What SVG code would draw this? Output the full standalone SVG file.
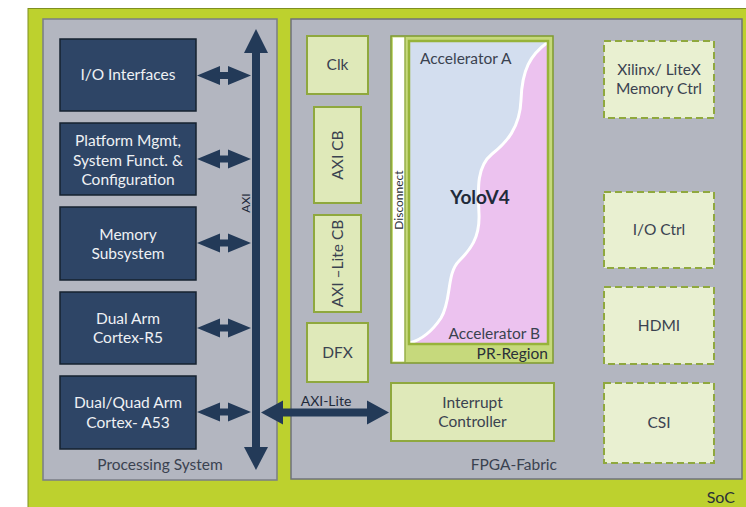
<svg xmlns="http://www.w3.org/2000/svg" width="746" height="507" viewBox="0 0 746 507">
<style>
text{font-family:Lato,"Liberation Sans",sans-serif;}
.ps{fill:#2e4566;stroke:#16222f;stroke-width:1.5;}
.pst{fill:#eef1f4;font-size:15.5px;text-anchor:middle;}
.lg{fill:#dfe9b9;stroke:#8fa83e;stroke-width:2;}
.dash{fill:#e9f0d1;stroke:#8fa83e;stroke-width:2;stroke-dasharray:7,4;}
.dt{fill:#3a4250;font-size:15.5px;text-anchor:middle;}
.arr{fill:#233a58;}
</style>
<rect x="0" y="0" width="746" height="507" fill="#ffffff"/>
<rect x="28" y="8.5" width="720" height="500" fill="#bdd12e" stroke="#7f8f20" stroke-width="1"/>
<g id="processing-system">
<rect x="43" y="19" width="234" height="461" fill="#b3b6c0" stroke="#7a7d86" stroke-width="1.5"/>
<text class="dt" x="160" y="470">Processing System</text>
</g>
<g id="fpga-fabric">
<rect x="291" y="19" width="451" height="460" fill="#b3b6c0" stroke="#6f727a" stroke-width="1.5"/>
<text class="dt" x="557" y="470" style="text-anchor:end">FPGA-Fabric</text>
</g>
<g id="io-interfaces"><rect class="ps" x="60" y="39" width="136" height="72"/><text class="pst" x="128" y="80">I/O Interfaces</text></g>
<g id="platform-mgmt"><rect class="ps" x="60" y="123" width="136" height="72"/><text class="pst" x="128" y="146">Platform Mgmt,</text><text class="pst" x="128" y="165.5">System Funct. &amp;</text><text class="pst" x="128" y="185">Configuration</text></g>
<g id="memory-subsystem"><rect class="ps" x="60" y="207" width="136" height="73"/><text class="pst" x="128" y="240">Memory</text><text class="pst" x="128" y="259">Subsystem</text></g>
<g id="cortex-r5"><rect class="ps" x="60" y="292" width="136" height="72"/><text class="pst" x="128" y="324">Dual Arm</text><text class="pst" x="128" y="343">Cortex-R5</text></g>
<g id="cortex-a53"><rect class="ps" x="60" y="376" width="136" height="73"/><text class="pst" x="128" y="408">Dual/Quad Arm</text><text class="pst" x="128" y="428">Cortex- A53</text></g>
<g id="clk"><rect class="lg" x="307" y="36" width="61" height="58"/><text class="dt" x="337.5" y="70">Clk</text></g>
<g id="axi-cb"><rect class="lg" x="314" y="107" width="47" height="96"/><text class="dt" transform="translate(343,155) rotate(-90)">AXI CB</text></g>
<g id="axi-lite-cb"><rect class="lg" x="314" y="215" width="47" height="97"/><text class="dt" transform="translate(343,263.5) rotate(-90)">AXI –Lite CB</text></g>
<g id="dfx"><rect class="lg" x="307" y="323" width="61" height="59"/><text class="dt" x="337.5" y="358">DFX</text></g>
<g id="pr-region">
<rect x="391" y="36" width="162" height="327" fill="#c6d97c" stroke="#7f9a2e" stroke-width="1.5"/>
<rect x="393" y="37.5" width="11.5" height="324" fill="#ffffff"/>
<line x1="405" y1="37" x2="405" y2="362" stroke="#7f9a2e" stroke-width="1"/>
<text transform="translate(403,200) rotate(-90)" font-size="12" fill="#2a3038" text-anchor="middle">Disconnect</text>
<rect x="409" y="41" width="139" height="303" fill="#d3deef"/>
<path d="M548,42 C530,55 522,70 521,100 C520,128 506,143 492,154 C476,167 478,190 479,214 C480,238 470,250 459,261 C446,274 452,300 441,318 C431,333 420,340 410,343 L548,343 Z" fill="#ecc2ef"/>
<path d="M548,42 C530,55 522,70 521,100 C520,128 506,143 492,154 C476,167 478,190 479,214 C480,238 470,250 459,261 C446,274 452,300 441,318 C431,333 420,340 410,343" fill="none" stroke="#ffffff" stroke-width="3"/>
<rect x="409" y="41" width="139" height="303" fill="none" stroke="#97b33a" stroke-width="2.5"/>
<text x="420" y="64" font-size="15.5" fill="#3a4250">Accelerator A</text>
<text x="480" y="204" font-size="19" font-weight="bold" fill="#1f2a3a" text-anchor="middle">YoloV4</text>
<text x="540" y="339" font-size="15.5" fill="#3a4250" text-anchor="end">Accelerator B</text>
<text x="548" y="359" font-size="15.5" fill="#2a3038" text-anchor="end">PR-Region</text>
</g>
<g id="interrupt-controller"><rect class="lg" x="391" y="383" width="163" height="58"/><text class="dt" x="472.5" y="408">Interrupt</text><text class="dt" x="472.5" y="427">Controller</text></g>
<g id="memory-ctrl"><rect class="dash" x="604" y="41" width="110" height="77"/><text class="dt" x="659" y="75">Xilinx/ LiteX</text><text class="dt" x="659" y="94">Memory Ctrl</text></g>
<g id="io-ctrl"><rect class="dash" x="604" y="192" width="110" height="76"/><text class="dt" x="659" y="235">I/O Ctrl</text></g>
<g id="hdmi"><rect class="dash" x="604" y="287" width="110" height="77"/><text class="dt" x="659" y="331">HDMI</text></g>
<g id="csi"><rect class="dash" x="604" y="383" width="110" height="80"/><text class="dt" x="659" y="428">CSI</text></g>
<text x="735" y="503" font-size="16" fill="#2a3038" text-anchor="end">SoC</text>
<g id="connectors">
<rect class="arr" x="252" y="50" width="8" height="400"/>
<polygon class="arr" points="256,29 268,53 244,53"/>
<polygon class="arr" points="256,470 268,447 244,447"/>
<text transform="translate(250,203) rotate(-90)" font-size="12" fill="#1f2a3a" text-anchor="middle">AXI</text>
<polygon class="arr" points="197,75.5 220,66 220,72 228,72 228,66 251,75.5 228,85 228,79 220,79 220,85"/>
<polygon class="arr" points="197,159 220,149.5 220,155.5 228,155.5 228,149.5 251,159 228,168.5 228,162.5 220,162.5 220,168.5"/>
<polygon class="arr" points="197,243 220,233.5 220,239.5 228,239.5 228,233.5 251,243 228,252.5 228,246.5 220,246.5 220,252.5"/>
<polygon class="arr" points="197,328 220,318.5 220,324.5 228,324.5 228,318.5 251,328 228,337.5 228,331.5 220,331.5 220,337.5"/>
<polygon class="arr" points="197,412 220,402.5 220,408.5 228,408.5 228,402.5 251,412 228,421.5 228,415.5 220,415.5 220,421.5"/>
<polygon class="arr" points="261,412.5 283,400.5 283,408.5 367,408.5 367,400.5 389,412.5 367,424.5 367,416.5 283,416.5 283,424.5"/>
<text x="326" y="406" font-size="14" fill="#1f2a3a" text-anchor="middle">AXI-Lite</text>
</g>
</svg>
